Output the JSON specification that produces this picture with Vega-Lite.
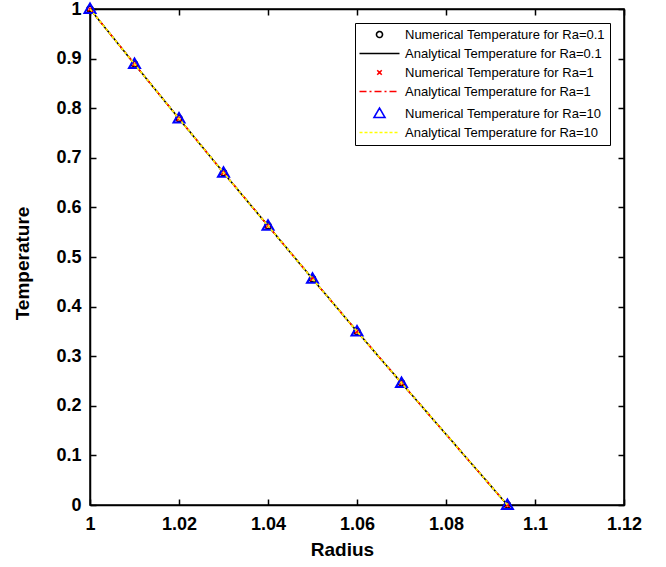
{
  "$schema": "https://vega.github.io/schema/vega-lite/v6.json",
  "width": 534,
  "height": 496,
  "autosize": "none",
  "padding": {"left": 90, "top": 9, "right": 42, "bottom": 62},
  "background": "white",
  "config": {
    "view": {"stroke": "black", "strokeWidth": 1.5},
    "axis": {
      "grid": false,
      "domainColor": "black",
      "domainWidth": 1.5,
      "tickColor": "black",
      "tickWidth": 1.5,
      "tickSize": -6,
      "labelFlush": false,
      "labelFont": "Liberation Sans",
      "labelFontSize": 18,
      "labelFontWeight": "bold",
      "labelColor": "black",
      "titleFont": "Liberation Sans",
      "titleFontSize": 19,
      "titleFontWeight": "bold",
      "titleColor": "black"
    },
    "legend": {
      "orient": "top-right",
      "offset": 14,
      "title": null,
      "strokeColor": "black",
      "fillColor": "white",
      "padding": 5,
      "symbolSize": 100,
      "symbolStrokeWidth": 1.6,
      "symbolOffset": 13,
      "labelFont": "Liberation Sans",
      "labelFontSize": 13,
      "labelColor": "black",
      "labelLimit": 300,
      "labelOffset": 19,
      "rowPadding": 5
    }
  },
  "data": {
    "values": [
      {"s": "Numerical Temperature for Ra=0.1", "r": 1, "T": 1},
      {"s": "Numerical Temperature for Ra=0.1", "r": 1.01, "T": 0.889},
      {"s": "Numerical Temperature for Ra=0.1", "r": 1.02, "T": 0.779},
      {"s": "Numerical Temperature for Ra=0.1", "r": 1.03, "T": 0.67},
      {"s": "Numerical Temperature for Ra=0.1", "r": 1.04, "T": 0.563},
      {"s": "Numerical Temperature for Ra=0.1", "r": 1.05, "T": 0.456},
      {"s": "Numerical Temperature for Ra=0.1", "r": 1.06, "T": 0.35},
      {"s": "Numerical Temperature for Ra=0.1", "r": 1.07, "T": 0.246},
      {"s": "Numerical Temperature for Ra=0.1", "r": 1.0938, "T": 0},
      {"s": "Analytical Temperature for Ra=0.1", "r": 1, "T": 1},
      {"s": "Analytical Temperature for Ra=0.1", "r": 1.01, "T": 0.889},
      {"s": "Analytical Temperature for Ra=0.1", "r": 1.02, "T": 0.779},
      {"s": "Analytical Temperature for Ra=0.1", "r": 1.03, "T": 0.67},
      {"s": "Analytical Temperature for Ra=0.1", "r": 1.04, "T": 0.563},
      {"s": "Analytical Temperature for Ra=0.1", "r": 1.05, "T": 0.456},
      {"s": "Analytical Temperature for Ra=0.1", "r": 1.06, "T": 0.35},
      {"s": "Analytical Temperature for Ra=0.1", "r": 1.07, "T": 0.246},
      {"s": "Analytical Temperature for Ra=0.1", "r": 1.0938, "T": 0},
      {"s": "Numerical Temperature for Ra=1", "r": 1, "T": 1},
      {"s": "Numerical Temperature for Ra=1", "r": 1.01, "T": 0.889},
      {"s": "Numerical Temperature for Ra=1", "r": 1.02, "T": 0.779},
      {"s": "Numerical Temperature for Ra=1", "r": 1.03, "T": 0.67},
      {"s": "Numerical Temperature for Ra=1", "r": 1.04, "T": 0.563},
      {"s": "Numerical Temperature for Ra=1", "r": 1.05, "T": 0.456},
      {"s": "Numerical Temperature for Ra=1", "r": 1.06, "T": 0.35},
      {"s": "Numerical Temperature for Ra=1", "r": 1.07, "T": 0.246},
      {"s": "Numerical Temperature for Ra=1", "r": 1.0938, "T": 0},
      {"s": "Analytical Temperature for Ra=1", "r": 1, "T": 1},
      {"s": "Analytical Temperature for Ra=1", "r": 1.01, "T": 0.889},
      {"s": "Analytical Temperature for Ra=1", "r": 1.02, "T": 0.779},
      {"s": "Analytical Temperature for Ra=1", "r": 1.03, "T": 0.67},
      {"s": "Analytical Temperature for Ra=1", "r": 1.04, "T": 0.563},
      {"s": "Analytical Temperature for Ra=1", "r": 1.05, "T": 0.456},
      {"s": "Analytical Temperature for Ra=1", "r": 1.06, "T": 0.35},
      {"s": "Analytical Temperature for Ra=1", "r": 1.07, "T": 0.246},
      {"s": "Analytical Temperature for Ra=1", "r": 1.0938, "T": 0},
      {"s": "Numerical Temperature for Ra=10", "r": 1, "T": 1},
      {"s": "Numerical Temperature for Ra=10", "r": 1.01, "T": 0.889},
      {"s": "Numerical Temperature for Ra=10", "r": 1.02, "T": 0.779},
      {"s": "Numerical Temperature for Ra=10", "r": 1.03, "T": 0.67},
      {"s": "Numerical Temperature for Ra=10", "r": 1.04, "T": 0.563},
      {"s": "Numerical Temperature for Ra=10", "r": 1.05, "T": 0.456},
      {"s": "Numerical Temperature for Ra=10", "r": 1.06, "T": 0.35},
      {"s": "Numerical Temperature for Ra=10", "r": 1.07, "T": 0.246},
      {"s": "Numerical Temperature for Ra=10", "r": 1.0938, "T": 0},
      {"s": "Analytical Temperature for Ra=10", "r": 1, "T": 1},
      {"s": "Analytical Temperature for Ra=10", "r": 1.01, "T": 0.889},
      {"s": "Analytical Temperature for Ra=10", "r": 1.02, "T": 0.779},
      {"s": "Analytical Temperature for Ra=10", "r": 1.03, "T": 0.67},
      {"s": "Analytical Temperature for Ra=10", "r": 1.04, "T": 0.563},
      {"s": "Analytical Temperature for Ra=10", "r": 1.05, "T": 0.456},
      {"s": "Analytical Temperature for Ra=10", "r": 1.06, "T": 0.35},
      {"s": "Analytical Temperature for Ra=10", "r": 1.07, "T": 0.246},
      {"s": "Analytical Temperature for Ra=10", "r": 1.0938, "T": 0}
    ]
  },
  "resolve": {"axis": {"x": "independent", "y": "independent"}},
  "layer": [
    {
      "transform": [{"filter": "datum.s === 'Numerical Temperature for Ra=0.1'"}],
      "mark": {"type": "point", "filled": false, "size": 100, "strokeWidth": 1.5, "opacity": 1},
      "encoding": {
        "x": {"field": "r", "type": "quantitative", "scale": {"domain": [1, 1.12], "nice": false, "zero": false},
              "axis": {"title": "Radius", "values": [1, 1.02, 1.04, 1.06, 1.08, 1.1, 1.12], "format": "~g", "labelPadding": 16, "titlePadding": 7, "titleX": 252}},
        "y": {"field": "T", "type": "quantitative", "scale": {"domain": [0, 1], "nice": false, "zero": false},
              "axis": {"title": "Temperature", "values": [0, 0.1, 0.2, 0.3, 0.4, 0.5, 0.6, 0.7, 0.8, 0.9, 1], "format": "~g", "labelPadding": 15, "titlePadding": 23, "titleY": 254}},
        "color": {"field": "s", "type": "nominal", "sort": null,
                  "scale": {"domain": ["Numerical Temperature for Ra=0.1", "Analytical Temperature for Ra=0.1", "Numerical Temperature for Ra=1", "Analytical Temperature for Ra=1", "Numerical Temperature for Ra=10", "Analytical Temperature for Ra=10"],
                            "range": ["black", "black", "red", "red", "blue", "#ffff00"]}},
        "shape": {"field": "s", "type": "nominal", "sort": null,
                  "scale": {"domain": ["Numerical Temperature for Ra=0.1", "Analytical Temperature for Ra=0.1", "Numerical Temperature for Ra=1", "Analytical Temperature for Ra=1", "Numerical Temperature for Ra=10", "Analytical Temperature for Ra=10"],
                            "range": ["M0.6,0A0.6,0.6 0 1 1 -0.6,0A0.6,0.6 0 1 1 0.6,0Z", "M-4,0H4", "M-0.45,-0.45L0.45,0.45M-0.45,0.45L0.45,-0.45", "M-4,0H4", "M0,-1.1L1.1,0.8L-1.1,0.8Z", "M-4,0H4"]}}
      }
    },
    {
      "transform": [{"filter": "datum.s === 'Analytical Temperature for Ra=0.1'"}],
      "mark": {"type": "line", "strokeWidth": 1.6},
      "encoding": {
        "x": {"field": "r", "type": "quantitative", "axis": null},
        "y": {"field": "T", "type": "quantitative", "axis": null},
        "color": {"field": "s", "type": "nominal", "sort": null},
        "strokeDash": {"field": "s", "type": "nominal", "sort": null,
                       "scale": {"domain": ["Numerical Temperature for Ra=0.1", "Analytical Temperature for Ra=0.1", "Numerical Temperature for Ra=1", "Analytical Temperature for Ra=1", "Numerical Temperature for Ra=10", "Analytical Temperature for Ra=10"],
                                 "range": [[1, 0], [1, 0], [1, 0], [7, 3, 2, 3], [1, 0], [3, 2]]}}
      }
    },
    {
      "transform": [{"filter": "datum.s === 'Numerical Temperature for Ra=1'"}],
      "mark": {"type": "point", "filled": false, "size": 100, "strokeWidth": 1.5, "opacity": 1},
      "encoding": {
        "x": {"field": "r", "type": "quantitative", "axis": null},
        "y": {"field": "T", "type": "quantitative", "axis": null},
        "color": {"field": "s", "type": "nominal", "sort": null},
        "shape": {"field": "s", "type": "nominal", "sort": null}
      }
    },
    {
      "transform": [{"filter": "datum.s === 'Analytical Temperature for Ra=1'"}],
      "mark": {"type": "line", "strokeWidth": 1.6},
      "encoding": {
        "x": {"field": "r", "type": "quantitative", "axis": null},
        "y": {"field": "T", "type": "quantitative", "axis": null},
        "color": {"field": "s", "type": "nominal", "sort": null},
        "strokeDash": {"field": "s", "type": "nominal", "sort": null}
      }
    },
    {
      "transform": [{"filter": "datum.s === 'Numerical Temperature for Ra=10'"}],
      "mark": {"type": "point", "filled": false, "size": 100, "strokeWidth": 2, "opacity": 1},
      "encoding": {
        "x": {"field": "r", "type": "quantitative", "axis": null},
        "y": {"field": "T", "type": "quantitative", "axis": null},
        "color": {"field": "s", "type": "nominal", "sort": null},
        "shape": {"field": "s", "type": "nominal", "sort": null}
      }
    },
    {
      "transform": [{"filter": "datum.s === 'Analytical Temperature for Ra=10'"}],
      "mark": {"type": "line", "strokeWidth": 1.6},
      "encoding": {
        "x": {"field": "r", "type": "quantitative", "axis": null},
        "y": {"field": "T", "type": "quantitative", "axis": null},
        "color": {"field": "s", "type": "nominal", "sort": null},
        "strokeDash": {"field": "s", "type": "nominal", "sort": null}
      }
    },
    {
      "mark": {"type": "point", "opacity": 0},
      "encoding": {
        "x": {"field": "r", "type": "quantitative",
              "axis": {"orient": "top", "labels": false, "title": null, "values": [1, 1.02, 1.04, 1.06, 1.08, 1.1, 1.12]}},
        "y": {"field": "T", "type": "quantitative",
              "axis": {"orient": "right", "labels": false, "title": null, "values": [0, 0.1, 0.2, 0.3, 0.4, 0.5, 0.6, 0.7, 0.8, 0.9, 1]}}
      }
    }
  ]
}
